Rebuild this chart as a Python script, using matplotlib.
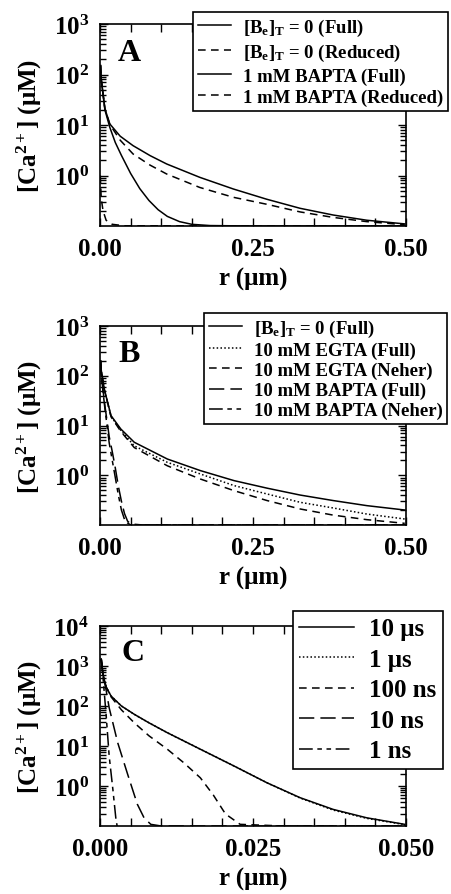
import numpy as np
import matplotlib
matplotlib.use("Agg")
import matplotlib.pyplot as plt
from matplotlib.ticker import FixedLocator, LogLocator, NullFormatter, FixedFormatter

plt.rcParams['font.family'] = ['Liberation Serif', 'DejaVu Serif']
plt.rcParams['font.weight'] = 'bold'
plt.rcParams['axes.labelweight'] = 'bold'
plt.rcParams['mathtext.fontset'] = 'custom'
plt.rcParams['mathtext.rm'] = 'Liberation Serif:bold'
plt.rcParams['mathtext.bf'] = 'Liberation Serif:bold'
plt.rcParams['mathtext.it'] = 'Liberation Serif:bold'
plt.rcParams['mathtext.default'] = 'rm'

# ---------------- Panel A data ----------------
a_full0_x = [0.001, 0.002, 0.008, 0.016, 0.033, 0.054, 0.082, 0.109, 0.163, 0.218, 0.272, 0.327, 0.381, 0.436, 0.498]
a_full0_y = [150, 81, 21, 10.5, 6.0, 3.9, 2.47, 1.69, 0.92, 0.54, 0.34, 0.224, 0.165, 0.13, 0.11]
a_red0_x = [0.001, 0.002, 0.008, 0.016, 0.033, 0.054, 0.082, 0.109, 0.163, 0.218, 0.272, 0.327, 0.381, 0.436, 0.498]
a_red0_y = [150, 81, 21, 10.3, 5.0, 2.67, 1.6, 1.07, 0.58, 0.37, 0.27, 0.19, 0.148, 0.122, 0.106]
a_bfull_x = [0.001, 0.002, 0.008, 0.016, 0.025, 0.035, 0.05, 0.065, 0.08, 0.095, 0.11, 0.13, 0.15, 0.18, 0.25, 0.5]
a_bfull_y = [150, 80, 20, 9.0, 4.5, 2.5, 1.1, 0.55, 0.32, 0.21, 0.155, 0.122, 0.108, 0.102, 0.1, 0.1]
a_bred_x = [0.0005, 0.002, 0.005, 0.01, 0.02, 0.04, 0.5]
a_bred_y = [1.0, 0.35, 0.2, 0.13, 0.108, 0.101, 0.1]
a_labels = [r'[B$_{e}$]$_{T}$ = 0 (Full)', r'[B$_{e}$]$_{T}$ = 0 (Reduced)',
            '1 mM BAPTA (Full)', '1 mM BAPTA (Reduced)']

# ---------------- Panel B data ----------------
b_full0_x = [0.001, 0.002, 0.007, 0.018, 0.034, 0.056, 0.110, 0.164, 0.219, 0.273, 0.327, 0.381, 0.436, 0.498]
b_full0_y = [200, 130, 54, 15.8, 8.5, 4.6, 2.12, 1.24, 0.78, 0.55, 0.40, 0.31, 0.245, 0.20]
b_egta_x = [0.001, 0.002, 0.007, 0.018, 0.034, 0.056, 0.110, 0.164, 0.219, 0.273, 0.327, 0.381, 0.436, 0.498]
b_egta_y = [200, 130, 53, 15.3, 8.0, 3.9, 1.82, 1.06, 0.62, 0.42, 0.286, 0.22, 0.166, 0.132]
b_egtan_x = [0.001, 0.002, 0.007, 0.018, 0.034, 0.056, 0.110, 0.164, 0.219, 0.273, 0.327, 0.381, 0.436, 0.498]
b_egtan_y = [200, 130, 53, 15.0, 7.6, 3.6, 1.55, 0.84, 0.49, 0.31, 0.21, 0.158, 0.128, 0.108]
b_bfull_x = [0.001, 0.002, 0.008, 0.015, 0.02, 0.025, 0.03, 0.035, 0.04, 0.045, 0.05, 0.07, 0.5]
b_bfull_y = [200, 100, 25, 6.0, 3.0, 1.4, 0.6, 0.3, 0.17, 0.12, 0.105, 0.1, 0.1]
b_bneh_x = [0.001, 0.002, 0.008, 0.015, 0.02, 0.025, 0.03, 0.035, 0.04, 0.045, 0.05, 0.5]
b_bneh_y = [200, 100, 22, 4.5, 2.0, 0.9, 0.4, 0.2, 0.13, 0.11, 0.1, 0.1]
b_labels = [r'[B$_{e}$]$_{T}$ = 0 (Full)', '10 mM EGTA (Full)', '10 mM EGTA (Neher)',
            '10 mM BAPTA (Full)', '10 mM BAPTA (Neher)']

# ---------------- Panel C data ----------------
c_10us_x = [0.0002, 0.0005, 0.001, 0.0018, 0.0035, 0.0056, 0.008, 0.011, 0.0164, 0.0219, 0.0273, 0.0327, 0.0381, 0.0436, 0.0498]
c_10us_y = [1500, 600, 300, 178, 100, 62, 38, 21.5, 8.3, 3.16, 1.2, 0.51, 0.26, 0.16, 0.11]
c_1us_x = [0.0002, 0.0005, 0.001, 0.0018, 0.0035, 0.0056, 0.008, 0.011, 0.0164, 0.0219, 0.0273, 0.0327, 0.0381, 0.0436, 0.0498]
c_1us_y = [1500, 600, 300, 178, 100, 62, 38, 21.5, 8.3, 3.16, 1.2, 0.5, 0.25, 0.155, 0.108]
c_100ns_x = [0.0002, 0.0005, 0.001, 0.0018, 0.0035, 0.0056, 0.008, 0.011, 0.0137, 0.0164, 0.0185, 0.0205, 0.0229, 0.03, 0.05]
c_100ns_y = [1500, 600, 300, 170, 80, 38, 18, 8.3, 3.8, 1.6, 0.6, 0.2, 0.11, 0.1, 0.1]
c_10ns_x = [0.0002, 0.0005, 0.001, 0.0015, 0.0029, 0.0045, 0.0061, 0.0072, 0.0083, 0.01, 0.05]
c_10ns_y = [1500, 600, 250, 90, 12, 2.0, 0.35, 0.16, 0.11, 0.1, 0.1]
c_1ns_x = [0.0002, 0.0005, 0.001, 0.0015, 0.0021, 0.0026, 0.0028]
c_1ns_y = [1500, 500, 60, 5.6, 0.83, 0.15, 0.1]
c_labels = ['10 μs', '1 μs', '100 ns', '10 ns', '1 ns']

ls_solid = '-'
ls_dot = (0, (1, 1.5))
ls_dash = (0, (5, 3.5))
ls_long = (0, (10, 4))
ls_dashdot = (0, (9, 3, 3, 3, 3, 3))

W, H = 451, 895
fig = plt.figure(figsize=(W / 100, H / 100), dpi=100)


def make_ax(top_px, bot_px, left_px=100, right_px=406):
    return fig.add_axes([left_px / W, 1 - bot_px / H, (right_px - left_px) / W, (bot_px - top_px) / H])


def style_ax(ax, xmax, xstep, xlabels_pos, xlabels, ymax_exp):
    ax.set_yscale('log')
    ax.set_xlim(0, xmax)
    ax.set_ylim(0.1, 10 ** ymax_exp)
    majors = [10 ** k for k in range(0, ymax_exp + 1)]
    ax.yaxis.set_major_locator(FixedLocator(majors))
    ax.yaxis.set_major_formatter(FixedFormatter([r'$10^{%d}$' % k for k in range(0, ymax_exp + 1)]))
    ax.yaxis.set_minor_locator(LogLocator(base=10, subs=np.arange(2, 10), numticks=50))
    ax.yaxis.set_minor_formatter(NullFormatter())
    ax.xaxis.set_major_locator(FixedLocator(xlabels_pos))
    ax.xaxis.set_major_formatter(FixedFormatter(xlabels))
    ax.xaxis.set_minor_locator(FixedLocator(np.arange(0, xmax + 1e-9, xstep)))
    ax.tick_params(which='both', direction='in', top=True, right=True, width=1.0)
    ax.tick_params(which='major', length=6, labelsize=18, pad=8)
    ax.tick_params(which='minor', length=4)
    ax.tick_params(axis='x', which='minor', length=6)
    for s in ax.spines.values():
        s.set_linewidth(1.2)
    ax.set_xlabel('r (μm)', fontsize=18, labelpad=5)
    ax.set_ylabel(r'[Ca$^{2+}$] (μM)', fontsize=18, labelpad=7)


lw = 1.1
leg_kw = dict(loc='upper left', bbox_transform=fig.transFigure, borderaxespad=0,
              fancybox=False, framealpha=1, edgecolor='black',
              handletextpad=0.6, borderpad=0.25)

# Panel A
axA = make_ax(25, 227)
axA.plot(a_full0_x, a_full0_y, color='black', lw=lw, ls=ls_solid, label=a_labels[0])
axA.plot(a_red0_x, a_red0_y, color='black', lw=lw, ls=ls_dash, label=a_labels[1])
axA.plot(a_bfull_x, a_bfull_y, color='black', lw=lw, ls=ls_solid, label=a_labels[2])
axA.plot(a_bred_x, a_bred_y, color='black', lw=lw, ls=ls_dash, label=a_labels[3])
style_ax(axA, 0.5, 0.05, [0, 0.25, 0.5], ['0.00', '0.25', '0.50'], 3)
axA.text(0.095, 0.86, 'A', transform=axA.transAxes, fontsize=23, ha='center', va='center')
lg = axA.legend(bbox_to_anchor=(193 / W, 1 - 13 / H), fontsize=13.5, labelspacing=0.22,
                handlelength=1.8, **leg_kw)
lg.get_frame().set_linewidth(1.2)

# Panel B
axB = make_ax(327, 526)
axB.plot(b_full0_x, b_full0_y, color='black', lw=lw, ls=ls_solid, label=b_labels[0])
axB.plot(b_egta_x, b_egta_y, color='black', lw=lw, ls=ls_dot, label=b_labels[1])
axB.plot(b_egtan_x, b_egtan_y, color='black', lw=lw, ls=ls_dash, label=b_labels[2])
axB.plot(b_bfull_x, b_bfull_y, color='black', lw=lw, ls=ls_long, label=b_labels[3])
axB.plot(b_bneh_x, b_bneh_y, color='black', lw=lw, ls=ls_dashdot, label=b_labels[4])
style_ax(axB, 0.5, 0.05, [0, 0.25, 0.5], ['0.00', '0.25', '0.50'], 3)
axB.text(0.094, 0.864, 'B', transform=axB.transAxes, fontsize=23, ha='center', va='center')
lg = axB.legend(bbox_to_anchor=(204 / W, 1 - 314 / H), fontsize=13.5, labelspacing=0.15,
                handlelength=1.8, **leg_kw)
lg.get_frame().set_linewidth(1.2)

# Panel C
axC = make_ax(627, 827)
axC.plot(c_10us_x, c_10us_y, color='black', lw=lw, ls=ls_solid, label=c_labels[0])
axC.plot(c_1us_x, c_1us_y, color='black', lw=lw, ls=ls_dot, label=c_labels[1])
axC.plot(c_100ns_x, c_100ns_y, color='black', lw=lw, ls=ls_dash, label=c_labels[2])
axC.plot(c_10ns_x, c_10ns_y, color='black', lw=lw, ls=ls_long, label=c_labels[3])
axC.plot(c_1ns_x, c_1ns_y, color='black', lw=lw, ls=ls_dashdot, label=c_labels[4])
style_ax(axC, 0.05, 0.005, [0, 0.025, 0.05], ['0.000', '0.025', '0.050'], 4)
axC.text(0.107, 0.865, 'C', transform=axC.transAxes, fontsize=23, ha='center', va='center')
lg = axC.legend(bbox_to_anchor=(293 / W, 1 - 612 / H), fontsize=18, labelspacing=0.3,
                handlelength=2.2, **leg_kw)
lg.get_frame().set_linewidth(1.2)

fig.savefig('out.png', dpi=100)
